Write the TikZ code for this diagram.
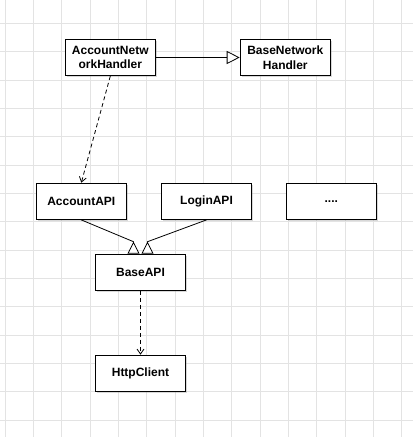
\documentclass[tikz,border=0pt]{standalone}
\usepackage{fontspec}
\setmainfont{Liberation Sans}
\usetikzlibrary{arrows.meta}
\usetikzlibrary{shadows}
\definecolor{gridgray}{HTML}{E3E3E3}
\tikzset{
    cls/.style={
        draw, line width=1.2pt, fill=white, align=center,
        minimum width=90pt, minimum height=36pt, inner sep=2pt,
        font=\fontsize{12}{14.5}\selectfont\bfseries,
        drop shadow={shadow xshift=1.5pt, shadow yshift=-1.5pt, opacity=0.3}
    },
    inherit/.style={
        line width=0.8pt,
        -{Triangle[open,length=13pt,width=13pt,fill=white]}
    },
    inheritup/.style={
        line width=0.8pt,
        {Triangle[open,reversed,length=12pt,width=12pt,fill=white]}-
    },
    uses/.style={
        line width=0.8pt, dash pattern=on 4pt off 3pt,
        -{Straight Barb[length=5pt,width=7pt]}
    }
}
\newcommand{\classbox}[4] {
	\node[cls] (#1) at (#2,#3) {#4};
}
\begin{document}
\begin{tikzpicture}[x=1pt,y=-1pt]
		\useasboundingbox (0,0) rectangle (413,437);
		\fill[white] (0,0) rectangle (413,437);

		% grid
		\foreach \k in {0,...,14} {
			\draw[gridgray, line width=0.9pt] (5+28.333*\k,0) -- (5+28.333*\k,437);
		}
		\foreach \k in {1,...,15} {
			\draw[gridgray, line width=0.9pt] (0,-5+28.333*\k) -- (413,-5+28.333*\k);
		}

		% handlers
		\classbox{anh}{110.3}{57.5}{AccountNetw\\orkHandler}
		\classbox{bnh}{285.3}{57.5}{BaseNetwork\\Handler}

		% apis
		\classbox{acc}{81.3}{201.3}{AccountAPI}
		\classbox{login}{206.5}{201.3}{LoginAPI}
		\classbox{dots}{331.3}{201.3}{....}
		\classbox{base}{140.5}{272.3}{BaseAPI}
		\classbox{http}{140.5}{373.3}{HttpClient}

		% connectors
		\draw[inherit] (anh.east) -- (bnh.west);
		\draw[uses] (anh.south) -- (acc.north);
		\draw[inheritup] ([xshift=-7pt]base.north) -- ([xshift=-7pt,yshift=12pt]base.north) -- (acc.south);
		\draw[inheritup] ([xshift=7pt]base.north) -- ([xshift=7pt,yshift=12pt]base.north) -- (login.south);
		\draw[uses] (base.south) -- (http.north);

	\end{tikzpicture}
\end{document}
